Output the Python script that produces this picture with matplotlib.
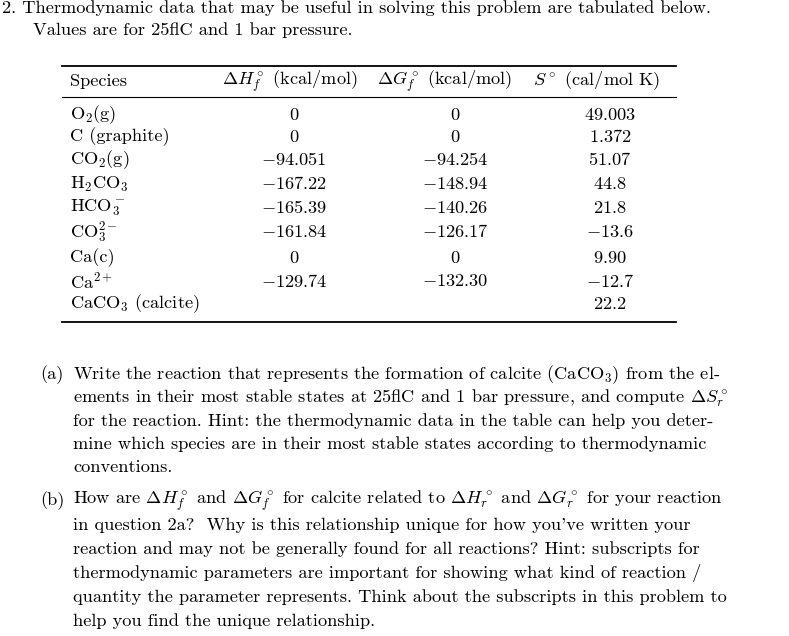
import matplotlib
matplotlib.use("Agg")
import matplotlib.pyplot as plt

plt.rcParams['font.family'] = ['cmr10', 'DejaVu Serif']
plt.rcParams['mathtext.fontset'] = 'cm'
plt.rcParams['axes.unicode_minus'] = False

W, H = 789, 636
fig = plt.figure(figsize=(W / 100, H / 100), dpi=100)
fs = 13.2


def put(x, y, s, ha='left', size=fs):
    fig.text(x / W, 1 - y / H, s, ha=ha, va='center', fontsize=size)


def rule(x0, x1, y, lw=1.3):
    fig.add_artist(plt.Line2D([x0 / W, x1 / W], [1 - y / H, 1 - y / H], color='black', lw=lw))


species = [r'O$_2$(g)', 'C (graphite)', r'CO$_2$(g)', r'H$_2$CO$_3$', r'HCO$_3^-$',
           r'CO$_3^{2-}$', 'Ca(c)', r'Ca$^{2+}$', r'CaCO$_3$ (calcite)']
dH = ['0', '0', '-94.051', '-167.22', '-165.39', '-161.84', '0', '-129.74', '']
dG = ['0', '0', '-94.254', '-148.94', '-140.26', '-126.17', '0', '-132.30', '']
S = ['49.003', '1.372', '51.07', '44.8', '21.8', '-13.6', '9.90', '-12.7', '22.2']
row_y = [115, 137, 160, 184, 208, 232, 258, 281, 304]


def num(s):
    return '$' + s + '$' if s else ''


put(2, 8, '2. Thermodynamic data that may be useful in solving this problem are tabulated below.')
put(33, 30, 'Values are for 25°C and 1 bar pressure.')

rule(62, 676, 66)
put(70, 81, 'Species')
put(290, 81, r'$\Delta H_f^\circ$ (kcal/mol)', ha='center')
put(445, 81, r'$\Delta G_f^\circ$ (kcal/mol)', ha='center')
put(597, 81, r'$S^\circ$ (cal/mol K)', ha='center')
rule(62, 676, 97, lw=0.8)
for y, sp, h, g, s in zip(row_y, species, dH, dG, S):
    put(70, y, sp)
    put(294, y, num(h), ha='center')
    put(455, y, num(g), ha='center')
    put(610, y, num(s), ha='center')
rule(62, 676, 322)

a_lines = [
    r'Write the reaction that represents the formation of calcite (CaCO$_3$) from the el-',
    r'ements in their most stable states at 25°C and 1 bar pressure, and compute $\Delta S_r^\circ$',
    'for the reaction. Hint: the thermodynamic data in the table can help you deter-',
    'mine which species are in their most stable states according to thermodynamic',
    'conventions.',
]
b_lines = [
    r'How are $\Delta H_f^\circ$ and $\Delta G_f^\circ$ for calcite related to $\Delta H_r^\circ$ and $\Delta G_r^\circ$ for your reaction',
    "in question 2a?  Why is this relationship unique for how you've written your",
    'reaction and may not be generally found for all reactions? Hint: subscripts for',
    'thermodynamic parameters are important for showing what kind of reaction /',
    'quantity the parameter represents. Think about the subscripts in this problem to',
    'help you find the unique relationship.',
]
a_y = [375, 398, 421, 444, 467]
b_y = [501, 525, 549, 573, 597, 621]
put(40, a_y[0], '(a)')
for y, t in zip(a_y, a_lines):
    put(73, y, t)
put(40, b_y[0], '(b)')
for y, t in zip(b_y, b_lines):
    put(73, y, t)

fig.savefig('out.png', dpi=100, facecolor='white')
